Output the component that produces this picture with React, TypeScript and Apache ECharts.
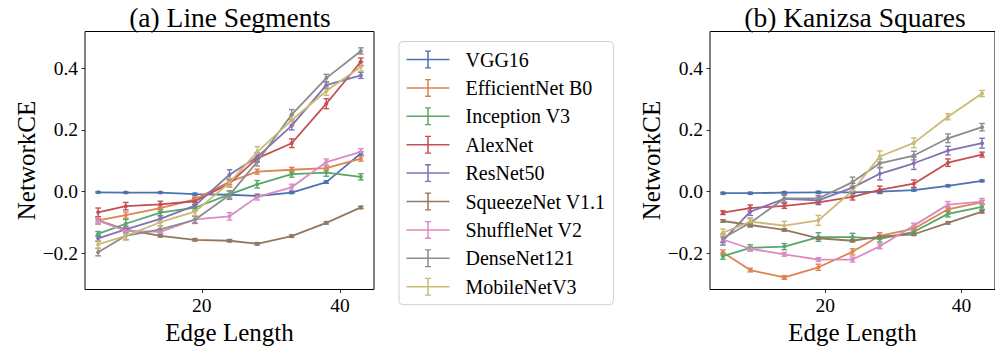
import React, { useEffect, useRef } from 'react';
import * as echarts from 'echarts';

const edgeLengths = [5, 9, 14, 19, 24, 28, 33, 38, 43];
const models = ['VGG16', 'EfficientNet B0', 'Inception V3', 'AlexNet', 'ResNet50', 'SqueezeNet V1.1', 'ShuffleNet V2', 'DenseNet121', 'MobileNetV3'];
const colors = ['#4C72B0', '#DD8452', '#55A868', '#C44E52', '#8172B3', '#937860', '#DA8BC3', '#8C8C8C', '#CCB974'];
const xTicks = [20, 40];
const yTicks = [-0.2, 0, 0.2, 0.4];
const titles = ['(a) Line Segments', '(b) Kanizsa Squares'];

// (a) Line Segments — mean NetworkCE
const segVGG16 = [-0.002, -0.003, -0.003, -0.008, -0.010, -0.014, -0.003, 0.031, 0.124];
const segEfficientNet = [-0.093, -0.076, -0.053, -0.025, 0.032, 0.065, 0.071, 0.076, 0.107];
const segInception = [-0.137, -0.104, -0.068, -0.052, -0.009, 0.024, 0.057, 0.062, 0.048];
const segAlexNet = [-0.067, -0.047, -0.041, -0.031, 0.027, 0.108, 0.157, 0.285, 0.421];
const segResNet = [-0.151, -0.122, -0.088, -0.045, 0.055, 0.112, 0.214, 0.345, 0.377];
const segSqueezeNet = [-0.093, -0.123, -0.143, -0.156, -0.159, -0.169, -0.144, -0.101, -0.051];
const segShuffleNet = [-0.094, -0.127, -0.130, -0.090, -0.080, -0.017, 0.014, 0.096, 0.129];
const segDenseNet = [-0.196, -0.143, -0.122, -0.091, -0.011, 0.097, 0.250, 0.368, 0.456];
const segMobileNet = [-0.171, -0.143, -0.099, -0.065, 0.029, 0.128, 0.232, 0.326, 0.405];

// (a) error bar half-lengths
const segErrVGG16 = [0.002, 0.002, 0.002, 0.003, 0.003, 0.003, 0.003, 0.004, 0.005];
const segErrEfficientNet = [0.012, 0.010, 0.010, 0.008, 0.010, 0.008, 0.008, 0.008, 0.008];
const segErrInception = [0.008, 0.014, 0.010, 0.010, 0.012, 0.012, 0.010, 0.012, 0.010];
const segErrAlexNet = [0.014, 0.012, 0.010, 0.010, 0.012, 0.012, 0.014, 0.016, 0.012];
const segErrResNet = [0.010, 0.010, 0.010, 0.010, 0.016, 0.014, 0.014, 0.010, 0.010];
const segErrSqueezeNet = [0.004, 0.004, 0.004, 0.004, 0.004, 0.004, 0.004, 0.004, 0.004];
const segErrShuffleNet = [0.010, 0.010, 0.010, 0.010, 0.012, 0.010, 0.010, 0.010, 0.010];
const segErrDenseNet = [0.012, 0.012, 0.012, 0.012, 0.014, 0.014, 0.016, 0.012, 0.010];
const segErrMobileNet = [0.012, 0.014, 0.012, 0.012, 0.014, 0.018, 0.016, 0.014, 0.014];

// (b) Kanizsa Squares — mean NetworkCE
const kanVGG16 = [-0.005, -0.005, -0.003, -0.002, -0.002, 0.000, 0.005, 0.019, 0.035];
const kanEfficientNet = [-0.197, -0.254, -0.278, -0.245, -0.195, -0.143, -0.120, -0.057, -0.034];
const kanInception = [-0.209, -0.182, -0.178, -0.147, -0.147, -0.153, -0.130, -0.072, -0.049];
const kanAlexNet = [-0.068, -0.053, -0.046, -0.035, -0.017, 0.006, 0.026, 0.094, 0.120];
const kanResNet = [-0.159, -0.065, -0.023, -0.028, 0.013, 0.058, 0.092, 0.133, 0.157];
const kanSqueezeNet = [-0.095, -0.108, -0.124, -0.151, -0.159, -0.146, -0.138, -0.101, -0.065];
const kanShuffleNet = [-0.155, -0.185, -0.203, -0.220, -0.220, -0.177, -0.110, -0.042, -0.032];
const kanDenseNet = [-0.151, -0.101, -0.022, -0.022, 0.031, 0.092, 0.117, 0.173, 0.209];
const kanMobileNet = [-0.133, -0.097, -0.110, -0.093, 0.003, 0.114, 0.158, 0.243, 0.318];

// (b) error bar half-lengths
const kanErrVGG16 = [0.003, 0.003, 0.003, 0.003, 0.003, 0.003, 0.003, 0.003, 0.003];
const kanErrEfficientNet = [0.008, 0.006, 0.006, 0.010, 0.010, 0.010, 0.008, 0.008, 0.006];
const kanErrInception = [0.010, 0.010, 0.010, 0.014, 0.012, 0.010, 0.008, 0.010, 0.008];
const kanErrAlexNet = [0.006, 0.010, 0.008, 0.006, 0.010, 0.012, 0.012, 0.012, 0.008];
const kanErrResNet = [0.014, 0.012, 0.012, 0.014, 0.014, 0.020, 0.020, 0.014, 0.016];
const kanErrSqueezeNet = [0.004, 0.004, 0.004, 0.004, 0.004, 0.004, 0.004, 0.004, 0.004];
const kanErrShuffleNet = [0.008, 0.006, 0.006, 0.006, 0.008, 0.008, 0.008, 0.010, 0.010];
const kanErrDenseNet = [0.014, 0.014, 0.012, 0.010, 0.016, 0.014, 0.014, 0.014, 0.012];
const kanErrMobileNet = [0.012, 0.012, 0.014, 0.016, 0.016, 0.018, 0.016, 0.010, 0.010];

const segValues = [segVGG16, segEfficientNet, segInception, segAlexNet, segResNet, segSqueezeNet, segShuffleNet, segDenseNet, segMobileNet];
const segErrors = [segErrVGG16, segErrEfficientNet, segErrInception, segErrAlexNet, segErrResNet, segErrSqueezeNet, segErrShuffleNet, segErrDenseNet, segErrMobileNet];
const kanValues = [kanVGG16, kanEfficientNet, kanInception, kanAlexNet, kanResNet, kanSqueezeNet, kanShuffleNet, kanDenseNet, kanMobileNet];
const kanErrors = [kanErrVGG16, kanErrEfficientNet, kanErrInception, kanErrAlexNet, kanErrResNet, kanErrSqueezeNet, kanErrShuffleNet, kanErrDenseNet, kanErrMobileNet];

const FONT = '"Liberation Serif", "Times New Roman", serif';

const legendIcon =
  'path://M0,8.25 L43,8.25 L43,9.75 L0,9.75 Z M20.75,0 L22.25,0 L22.25,18 L20.75,18 Z M18.5,0 L24.5,0 L24.5,1.3 L18.5,1.3 Z M18.5,16.7 L24.5,16.7 L24.5,18 L18.5,18 Z';

function buildSeries(axisIndex: number, values: number[][], errors: number[][]) {
  const out: any[] = [];
  models.forEach((name, i) => {
    const color = colors[i];
    out.push({
      type: 'line',
      name,
      xAxisIndex: axisIndex,
      yAxisIndex: axisIndex,
      data: edgeLengths.map((x, j) => [x, values[i][j]]),
      symbol: 'circle',
      symbolSize: 4,
      showSymbol: true,
      lineStyle: { width: 1.8, color },
      itemStyle: { color, borderWidth: 0 },
      silent: true,
      z: 2,
    });
    out.push({
      type: 'custom',
      name: `${name}-err-${axisIndex}`,
      xAxisIndex: axisIndex,
      yAxisIndex: axisIndex,
      data: edgeLengths.map((x, j) => [x, values[i][j], errors[i][j]]),
      encode: { x: 0, y: 1 },
      silent: true,
      z: 2,
      renderItem: (params: any, api: any) => {
        const x = api.value(0);
        const y = api.value(1);
        const e = api.value(2);
        const top = api.coord([x, y + e]);
        const bot = api.coord([x, y - e]);
        const cw = 2.8;
        const st = { stroke: color, lineWidth: 1.4 };
        return {
          type: 'group',
          children: [
            { type: 'line', shape: { x1: top[0], y1: top[1], x2: bot[0], y2: bot[1] }, style: st },
            { type: 'line', shape: { x1: top[0] - cw, y1: top[1], x2: top[0] + cw, y2: top[1] }, style: st },
            { type: 'line', shape: { x1: bot[0] - cw, y1: bot[1], x2: bot[0] + cw, y2: bot[1] }, style: st },
          ],
        };
      },
    });
  });
  return out;
}

function fmtY(v: number) {
  const s = (Math.round(v * 10) / 10).toFixed(1);
  return s.startsWith('-') ? '\u2212' + s.slice(1) : s;
}

function axisPair(gridIndex: number) {
  const xAxis = {
    type: 'value',
    gridIndex,
    min: 3.1,
    max: 44.9,
    position: 'bottom',
    name: 'Edge Length',
    nameLocation: 'middle',
    nameGap: 30,
    nameTextStyle: { fontFamily: FONT, fontSize: 25, color: '#000' },
    axisLine: { show: false, onZero: false },
    splitLine: { show: false },
    axisTick: { show: true, length: 3.5, lineStyle: { color: '#000', width: 0.8 }, customValues: xTicks },
    axisLabel: {
      show: true,
      customValues: xTicks,
      margin: 6,
      fontFamily: FONT,
      fontSize: 19.5,
      color: '#000',
      formatter: (v: number) => String(v),
    },
  };
  const yAxis = {
    type: 'value',
    gridIndex,
    min: -0.317,
    max: 0.519,
    position: 'left',
    name: 'NetworkCE',
    nameLocation: 'middle',
    nameGap: 44,
    nameRotate: 90,
    nameTextStyle: { fontFamily: FONT, fontSize: 25, color: '#000' },
    axisLine: { show: false, onZero: false },
    splitLine: { show: false },
    axisTick: { show: true, length: 3.5, lineStyle: { color: '#000', width: 0.8 }, customValues: yTicks },
    axisLabel: {
      show: true,
      customValues: yTicks,
      margin: 7,
      fontFamily: FONT,
      fontSize: 19.5,
      color: '#000',
      formatter: (v: number) => fmtY(v),
    },
  };
  return { xAxis, yAxis };
}

export default function App() {
  const ref = useRef<HTMLDivElement>(null);
  useEffect(() => {
    if (!ref.current) return;
    const chart = echarts.init(ref.current, null, { renderer: 'svg' });
    const a = axisPair(0);
    const b = axisPair(1);
    const option: any = {
      animation: false,
      backgroundColor: '#fff',
      grid: [
        { left: 85, top: 31.5, width: 289, height: 258, show: true, borderColor: '#000', borderWidth: 1, backgroundColor: 'transparent' },
        { left: 710, top: 31.5, width: 289, height: 258, show: true, borderColor: '#000', borderWidth: 1, backgroundColor: 'transparent' },
      ],
      xAxis: [a.xAxis, b.xAxis],
      yAxis: [a.yAxis, b.yAxis],
      legend: {
        data: models,
        orient: 'vertical',
        left: 399,
        top: 41.5,
        padding: [8, 8, 8, 7.5],
        itemWidth: 43,
        itemHeight: 18,
        itemGap: 8.4,
        icon: legendIcon,
        selectedMode: false,
        backgroundColor: '#fff',
        borderColor: '#d0d0d0',
        borderWidth: 1,
        borderRadius: 4,
        itemStyle: { borderWidth: 0 },
        textStyle: { fontFamily: FONT, fontSize: 20, color: '#000', lineHeight: 18, padding: [0, 0, 0, 11] },
      },
      graphic: [
        { type: 'text', x: 230, y: 17, style: { text: titles[0], fontFamily: FONT, fontSize: 27.5, fill: '#000', align: 'center', verticalAlign: 'middle' } },
        { type: 'text', x: 855, y: 17, style: { text: titles[1], fontFamily: FONT, fontSize: 27.5, fill: '#000', align: 'center', verticalAlign: 'middle' } },
      ],
      series: [...buildSeries(0, segValues, segErrors), ...buildSeries(1, kanValues, kanErrors)],
    };
    chart.setOption(option);
    return () => chart.dispose();
  }, []);
  return <div ref={ref} style={{ position: 'fixed', left: 0, top: 0, width: 995, height: 351 }} />;
}
